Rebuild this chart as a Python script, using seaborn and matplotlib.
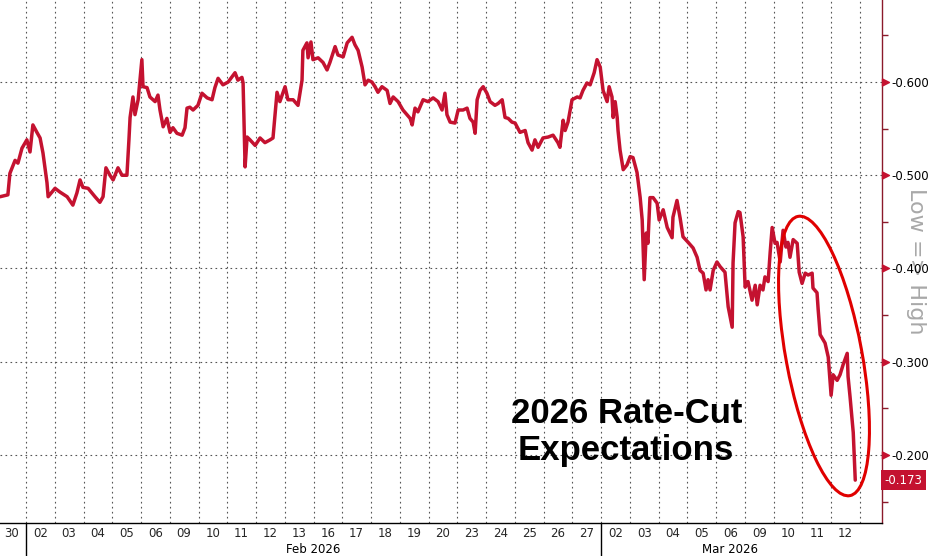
import numpy as np
import pandas as pd
import matplotlib
matplotlib.use("Agg")
import matplotlib.pyplot as plt
import matplotlib.transforms as mtransforms
from matplotlib.patches import Ellipse
from matplotlib.path import Path
import seaborn as sns

# ---------------- data ----------------
# trading-session position (day i occupies [i, i+1]; 0 = 30 Jan, 1..20 = Feb, 21..29 = Mar)
t = [0.10, 0.37, 0.44, 0.62, 0.72, 0.86, 1.03, 1.14, 1.24, 1.38, 1.49, 1.59, 1.73, 1.77,
     2.01, 2.18, 2.43, 2.63, 2.77, 2.88, 2.98, 3.16, 3.40, 3.57, 3.68, 3.78, 3.92, 4.03,
     4.20, 4.34, 4.51, 4.58, 4.62, 4.72, 4.79, 4.90, 5.03,
     5.07, 5.21, 5.31, 5.49, 5.59, 5.66, 5.77, 5.90, 6.01, 6.11, 6.25, 6.43, 6.53, 6.60,
     6.70, 6.81, 6.98, 7.12, 7.30, 7.47, 7.57, 7.68, 7.85, 8.03, 8.27, 8.37, 8.51, 8.55,
     8.62, 8.69, 8.79, 8.97, 9.14, 9.31, 9.49, 9.59, 9.73, 9.83, 10.01, 10.11, 10.29, 10.46,
     10.60, 10.63, 10.77, 10.81, 10.91, 10.98, 11.16, 11.33, 11.47, 11.57, 11.75, 11.85,
     12.03, 12.17, 12.34, 12.44, 12.55, 12.69, 12.79, 12.90, 13.03, 13.14, 13.24, 13.38,
     13.56, 13.66, 13.77, 13.94, 14.11, 14.36, 14.43, 14.53, 14.63, 14.81, 14.98, 15.16,
     15.33, 15.47,
     15.57, 15.64, 15.75, 15.92, 16.03, 16.20, 16.34, 16.44, 16.55, 16.62, 16.69, 16.79,
     16.90, 17.03, 17.14, 17.31, 17.42, 17.56, 17.66, 17.77, 17.90, 18.01, 18.18, 18.36,
     18.46, 18.60, 18.70, 18.81, 18.98, 19.16, 19.33, 19.50, 19.57, 19.68, 19.75, 19.85,
     19.99, 20.17, 20.27, 20.37, 20.51, 20.62, 20.76, 20.86, 20.97,
     21.07, 21.21, 21.28, 21.38, 21.42, 21.49, 21.56, 21.59, 21.66, 21.77, 21.90, 22.01,
     22.11, 22.25, 22.36, 22.43, 22.50, 22.57, 22.63, 22.70, 22.81, 22.95, 23.02, 23.16,
     23.30, 23.47, 23.50, 23.64, 23.75, 23.85, 24.03, 24.20, 24.34, 24.44, 24.55, 24.65,
     24.72, 24.79, 24.90, 25.03, 25.14, 25.31, 25.42, 25.56, 25.59, 25.66, 25.77, 25.83,
     25.94, 26.01,
     26.11, 26.25, 26.36, 26.43, 26.53, 26.63, 26.70, 26.81, 26.88, 26.95, 27.05, 27.12,
     27.23, 27.33, 27.43, 27.50, 27.57, 27.68, 27.82, 27.89, 27.99, 28.10, 28.20, 28.34,
     28.37, 28.51, 28.55, 28.62, 28.79, 28.90, 29.00, 29.07, 29.21, 29.31, 29.42, 29.56,
     29.59, 29.66, 29.77, 29.84]

v = [-0.477, -0.479, -0.502, -0.516, -0.513, -0.529, -0.538, -0.525, -0.554, -0.546, -0.540,
     -0.524, -0.492, -0.477, -0.486, -0.482, -0.477, -0.468, -0.481, -0.495, -0.487, -0.486,
     -0.477, -0.471, -0.477, -0.508, -0.500, -0.495, -0.508, -0.500, -0.500, -0.538, -0.562,
     -0.584, -0.565, -0.581, -0.624,
     -0.595, -0.594, -0.584, -0.579, -0.586, -0.570, -0.552, -0.561, -0.546, -0.551, -0.545,
     -0.543, -0.551, -0.572, -0.573, -0.570, -0.575, -0.588, -0.583, -0.581, -0.594, -0.604,
     -0.597, -0.600, -0.610, -0.602, -0.605, -0.599, -0.509, -0.541, -0.538, -0.532, -0.540,
     -0.535, -0.538, -0.540, -0.589, -0.579, -0.595, -0.581, -0.581, -0.575,
     -0.602, -0.634, -0.642, -0.626, -0.643, -0.624, -0.626, -0.621, -0.613, -0.621, -0.638,
     -0.629, -0.627, -0.642, -0.648, -0.640, -0.634, -0.616, -0.597, -0.602, -0.600, -0.595,
     -0.589, -0.595, -0.591, -0.577, -0.584, -0.579, -0.570, -0.561, -0.554, -0.572, -0.568,
     -0.581, -0.579, -0.583, -0.579, -0.570,
     -0.588, -0.565, -0.557, -0.556, -0.570, -0.570, -0.572, -0.561, -0.557, -0.545, -0.581,
     -0.591, -0.595, -0.588, -0.579, -0.575, -0.577, -0.581, -0.562, -0.561, -0.557, -0.556,
     -0.546, -0.548, -0.535, -0.527, -0.538, -0.530, -0.540, -0.541, -0.543, -0.535, -0.530,
     -0.559, -0.548, -0.557, -0.581, -0.584, -0.583, -0.591, -0.599, -0.597, -0.610, -0.624,
     -0.616,
     -0.591, -0.579, -0.595, -0.584, -0.562, -0.579, -0.562, -0.548, -0.527, -0.506, -0.511,
     -0.520, -0.519, -0.503, -0.476, -0.452, -0.388, -0.438, -0.427, -0.476, -0.476, -0.470,
     -0.452, -0.463, -0.444, -0.433, -0.455, -0.473, -0.454, -0.434, -0.428, -0.422, -0.412,
     -0.398, -0.395, -0.377, -0.388, -0.377, -0.398, -0.407, -0.402, -0.396, -0.359, -0.337,
     -0.406, -0.449, -0.461, -0.460, -0.434, -0.380,
     -0.386, -0.366, -0.382, -0.361, -0.382, -0.377, -0.391, -0.386, -0.417, -0.444, -0.427,
     -0.428, -0.407, -0.441, -0.423, -0.428, -0.412, -0.431, -0.427, -0.396, -0.384, -0.395,
     -0.393, -0.395, -0.379, -0.374, -0.356, -0.329, -0.320, -0.305, -0.264, -0.286, -0.280,
     -0.286, -0.297, -0.309, -0.284, -0.262, -0.224, -0.173]

day_labels = ["30", "02", "03", "04", "05", "06", "09", "10", "11", "12", "13", "16", "17",
              "18", "19", "20", "23", "24", "25", "26", "27", "02", "03", "04", "05", "06",
              "09", "10", "11", "12"]
month_labels = ["Feb 2026", "Mar 2026"]
month_start = [1, 21]
month_end = [21, 30]
y_major = [-0.6, -0.5, -0.4, -0.3, -0.2]
y_minor = [-0.65, -0.55, -0.45, -0.35, -0.25, -0.15]
last_value = -0.173
title_lines = ["2026 Rate-Cut", "Expectations"]
axis_note = "Low => High"

# ---------------- style ----------------
sns.set_style("white")
plt.rcParams["font.family"] = ["DejaVu Sans"]

LINE = "#C41230"
SPINE_R = "#8B1A2B"
GRID = "#555555"

fig = plt.figure(figsize=(9.31, 5.56), dpi=100)
ax = fig.add_axes([0.0, 33 / 556, 882 / 931, 523 / 556])

df = pd.DataFrame({"t": t, "v": v})
sns.lineplot(data=df, x="t", y="v", ax=ax, color=LINE, linewidth=2.5,
             estimator=None, sort=False, legend=False)

ax.set_xlim(0.096, 30.77)
ax.set_ylim(-0.127, -0.688)   # inverted: more negative at top

# spines
for s in ["left", "top"]:
    ax.spines[s].set_visible(False)
ax.spines["right"].set_color(SPINE_R)
ax.spines["right"].set_linewidth(1.0)
ax.spines["bottom"].set_color("black")
ax.spines["bottom"].set_linewidth(1.0)

# y axis on the right
ax.yaxis.tick_right()
ax.set_yticks(y_major)
ax.set_yticks(y_minor, minor=True)
ax.set_yticklabels([f"{y:.3f}" for y in y_major])
ax.tick_params(axis="y", which="major", length=0, pad=7, labelsize=8.5, labelcolor="black")
ax.tick_params(axis="y", which="minor", length=4, width=1, color=SPINE_R, direction="out")
ax.set_ylabel("")
ax.set_xlabel("")

# triangle tick markers on the right spine
tri = Path([(0, -1), (2, 0), (0, 1), (0, -1)],
           [Path.MOVETO, Path.LINETO, Path.LINETO, Path.CLOSEPOLY])
ytrans = ax.get_yaxis_transform()
ax.plot([1.0] * len(y_major), y_major, transform=ytrans, linestyle="none",
        marker=tri, markersize=10, color=LINE, clip_on=False, zorder=5)

# x axis: day labels centred in day slots
n_days = len(day_labels)
ax.set_xticks([i + 0.5 for i in range(n_days)])
ax.set_xticklabels(day_labels)
ax.set_xticks(list(range(1, n_days + 1)), minor=True)
ax.tick_params(axis="x", which="major", length=0, pad=3, labelsize=8.5)
ax.tick_params(axis="x", which="minor", length=0)

# grids
ax.grid(False)
ax.xaxis.grid(True, which="minor", color=GRID, linestyle=(0, (1.5, 3)), linewidth=0.8)
ax.yaxis.grid(True, which="major", color=GRID, linestyle=(0, (1.5, 3)), linewidth=0.8)
ax.set_axisbelow(True)

# month labels and separators
xtrans = ax.get_xaxis_transform()
for lab, s, e in zip(month_labels, month_start, month_end):
    ax.text((s + e) / 2, -0.05, lab, transform=xtrans, ha="center", va="center",
            fontsize=8.5, color="black")
for s in month_start:
    ax.axvline(s, ymin=-0.07, ymax=0, color="black", linewidth=1.0, clip_on=False)

# last value tag
ax.text(1.003, last_value, f"{last_value:.3f}", transform=ytrans, ha="left", va="center",
        fontsize=8.5, color="white", zorder=6,
        bbox=dict(boxstyle="square,pad=0.3", facecolor=LINE, edgecolor="none"))

# right-side note
ax.text(1.038, 0.50, axis_note, transform=ax.transAxes, rotation=270, ha="center",
        va="center", fontsize=16, color="#A8A8A8", zorder=0)

# title-like annotation
ax.text(0.710, (523 - 423) / 523, title_lines[0], transform=ax.transAxes, ha="center",
        va="baseline", fontsize=25, fontweight="bold", family="Liberation Sans", color="black")
ax.text(0.710, (523 - 460) / 523, title_lines[1], transform=ax.transAxes, ha="center",
        va="baseline", fontsize=25, fontweight="bold", family="Liberation Sans", color="black")

# hand-drawn style ellipse (pixel coordinates, y measured from bottom)
ell = Ellipse((824, 556 - 356), width=76, height=284, angle=10.5,
              transform=mtransforms.IdentityTransform(), fill=False,
              edgecolor="#E00000", linewidth=2.2, zorder=7)
fig.patches.append(ell)

fig.savefig("out.png", dpi=100, facecolor="white")
